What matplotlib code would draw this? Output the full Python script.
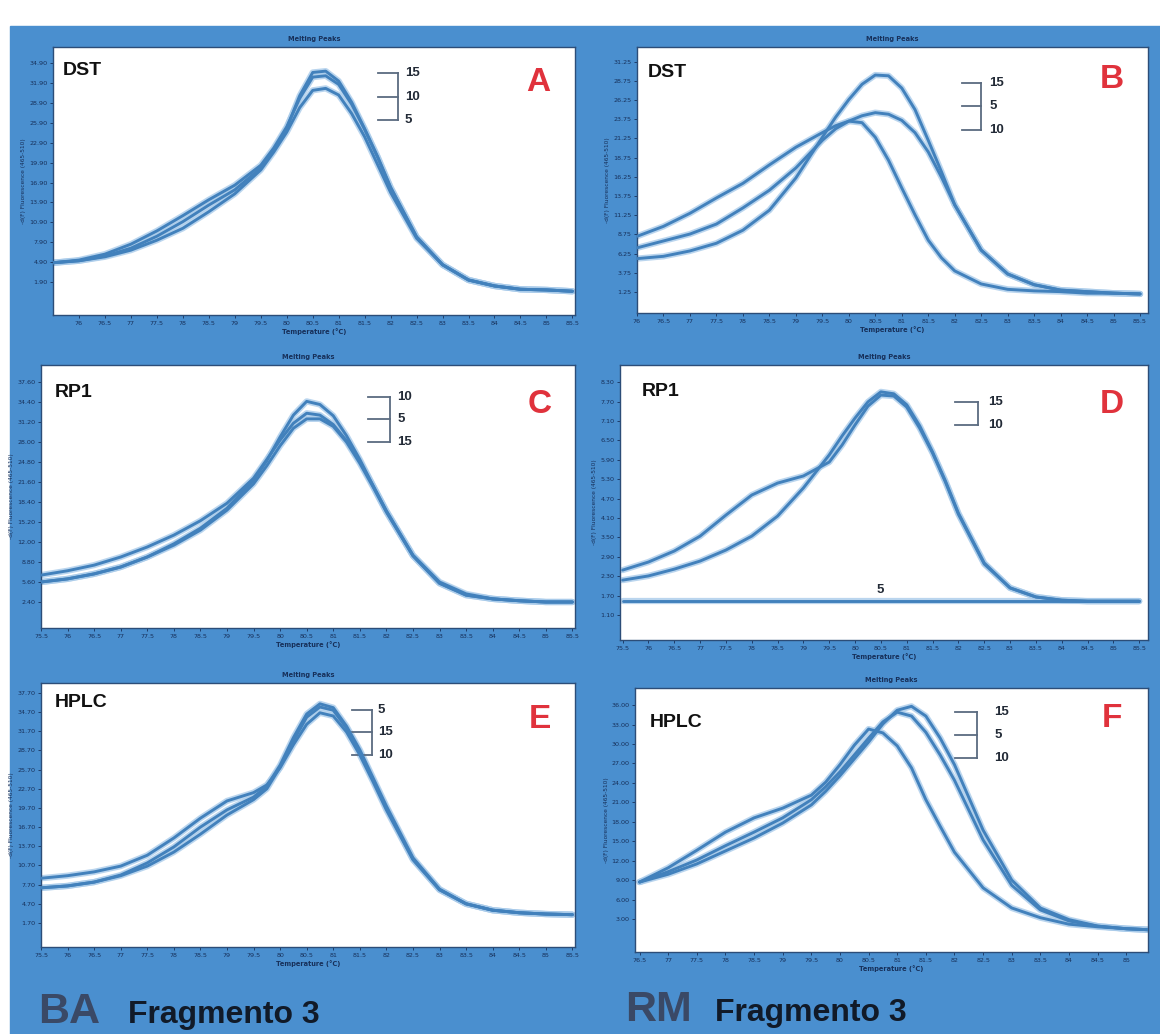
import numpy as np
import matplotlib
matplotlib.use('Agg')
import matplotlib.pyplot as plt
from matplotlib.patches import Rectangle

# temperaturas (eje x); paso mas fino cerca del pico
temp_ba = [75.5, 76.0, 76.5, 77.0, 77.5, 78.0, 78.5, 79.0, 79.5, 79.75, 80.0,
           80.25, 80.5, 80.75, 81.0, 81.25, 81.5, 81.75, 82.0, 82.5, 83.0,
           83.5, 84.0, 84.5, 85.0, 85.5]
temp_dst_rm = [76.0, 76.5, 77.0, 77.5, 78.0, 78.5, 79.0, 79.5, 79.75, 80.0,
               80.25, 80.5, 80.75, 81.0, 81.25, 81.5, 81.75, 82.0, 82.5, 83.0,
               83.5, 84.0, 84.5, 85.0, 85.5]
temp_rp1_rm = [75.5, 76.0, 76.5, 77.0, 77.5, 78.0, 78.5, 79.0, 79.5, 79.75, 80.0,
               80.25, 80.5, 80.75, 81.0, 81.25, 81.5, 81.75, 82.0, 82.5, 83.0,
               83.5, 84.0, 84.5, 85.0, 85.5]
temp_hplc_rm = [76.5, 77.0, 77.5, 78.0, 78.5, 79.0, 79.5, 79.75, 80.0, 80.25,
                80.5, 80.75, 81.0, 81.25, 81.5, 81.75, 82.0, 82.5, 83.0, 83.5,
                84.0, 84.5, 85.0, 85.5]

# -d(F)/dT de cada muestra (BA)
dst_ba_15 = [4.8, 5.1, 5.8, 7.0, 8.8, 11.0, 13.5, 15.8, 19.1, 21.8, 25.1, 30.0,
             33.5, 33.7, 32.2, 29.0, 25.0, 20.8, 16.2, 8.7, 4.5, 2.2, 1.3, 0.8,
             0.7, 0.5]
dst_ba_10 = [4.8, 5.2, 6.1, 7.6, 9.6, 11.9, 14.3, 16.5, 19.5, 22.1, 25.3, 29.6,
             32.8, 33.0, 31.7, 28.7, 24.9, 20.7, 16.1, 8.7, 4.5, 2.2, 1.3, 0.8,
             0.7, 0.5]
dst_ba_5 = [4.8, 5.1, 5.7, 6.7, 8.2, 10.0, 12.5, 15.2, 18.8, 21.5, 24.5, 28.2,
            30.8, 31.1, 30.1, 27.3, 23.8, 19.6, 15.4, 8.5, 4.5, 2.2, 1.3, 0.8,
            0.7, 0.5]

rp1_ba_10 = [5.6, 6.1, 6.9, 8.0, 9.6, 11.7, 14.2, 17.4, 21.9, 25.0, 28.8, 32.3,
             34.5, 34.0, 32.2, 29.0, 25.2, 21.0, 16.9, 9.8, 5.4, 3.5, 2.9, 2.6,
             2.4, 2.4]
rp1_ba_5 = [6.7, 7.4, 8.3, 9.6, 11.2, 13.1, 15.4, 18.2, 22.2, 25.2, 28.3, 31.0,
            32.6, 32.3, 30.8, 28.2, 24.9, 21.0, 17.0, 9.9, 5.6, 3.7, 2.9, 2.6,
            2.4, 2.4]
rp1_ba_15 = [5.6, 6.1, 6.9, 8.0, 9.6, 11.5, 13.9, 17.1, 21.3, 24.2, 27.4, 30.2,
             31.7, 31.7, 30.5, 28.0, 24.6, 20.8, 16.8, 9.8, 5.4, 3.5, 2.9, 2.6,
             2.4, 2.4]

hplc_ba_10 = [8.7, 9.1, 9.7, 10.6, 12.3, 15.0, 18.1, 20.8, 22.1, 23.3, 26.0,
              29.6, 32.8, 34.6, 34.1, 31.6, 28.0, 23.8, 19.4, 11.6, 6.9, 4.7,
              3.7, 3.3, 3.1, 3.0]
hplc_ba_5 = [7.2, 7.5, 8.1, 9.2, 11.1, 13.6, 16.7, 19.4, 21.4, 23.1, 26.4,
             30.7, 34.4, 36.0, 35.4, 32.5, 28.8, 24.4, 20.0, 11.9, 7.0, 4.7,
             3.7, 3.3, 3.1, 3.0]
hplc_ba_15 = [7.2, 7.5, 8.1, 9.1, 10.6, 12.8, 15.6, 18.6, 21.0, 22.7, 26.1,
              30.2, 33.9, 35.5, 35.0, 32.2, 28.5, 24.1, 19.7, 11.7, 6.9, 4.7,
              3.7, 3.3, 3.1, 3.0]

# -d(F)/dT de cada muestra (RM)
dst_rm_15 = [5.6, 5.9, 6.6, 7.6, 9.3, 11.9, 16.1, 21.4, 24.0, 26.3, 28.3, 29.5,
             29.4, 27.8, 25.0, 21.0, 16.9, 12.6, 6.7, 3.6, 2.2, 1.5, 1.3, 1.1,
             1.0]
dst_rm_5 = [7.0, 7.9, 8.8, 10.1, 12.2, 14.5, 17.4, 21.0, 22.5, 23.5, 24.2, 24.6,
            24.4, 23.6, 22.0, 19.5, 16.2, 12.6, 6.7, 3.6, 2.2, 1.5, 1.3, 1.1,
            1.0]
dst_rm_10 = [8.5, 9.8, 11.5, 13.5, 15.4, 17.8, 20.1, 22.0, 22.9, 23.5, 23.3,
             21.4, 18.4, 14.8, 11.3, 8.0, 5.7, 4.0, 2.3, 1.6, 1.4, 1.3, 1.1,
             1.1, 1.0]

rp1_rm_15 = [2.49, 2.74, 3.08, 3.54, 4.19, 4.81, 5.18, 5.40, 5.83, 6.36, 6.98,
             7.56, 7.90, 7.87, 7.53, 6.88, 6.11, 5.21, 4.22, 2.68, 1.94, 1.66,
             1.56, 1.53, 1.53, 1.53]
rp1_rm_10 = [2.18, 2.31, 2.52, 2.77, 3.11, 3.54, 4.16, 5.03, 6.05, 6.64, 7.19,
             7.69, 8.00, 7.94, 7.60, 6.95, 6.14, 5.24, 4.25, 2.71, 1.94, 1.66,
             1.56, 1.53, 1.53, 1.53]
rp1_rm_5 = [1.53, 1.53, 1.53, 1.53, 1.53, 1.53, 1.53, 1.53, 1.53, 1.53, 1.53,
            1.53, 1.53, 1.53, 1.53, 1.53, 1.53, 1.53, 1.53, 1.53, 1.53, 1.53,
            1.53, 1.53, 1.53, 1.53]

hplc_rm_15 = [8.7, 9.9, 11.5, 13.5, 15.5, 17.8, 20.6, 22.7, 25.1, 27.7, 30.3,
              33.1, 35.2, 35.8, 34.3, 30.9, 26.8, 16.7, 9.0, 4.7, 2.9, 1.9, 1.5,
              1.3]
hplc_rm_5 = [8.7, 10.3, 12.1, 14.3, 16.4, 18.6, 21.4, 23.4, 25.7, 28.3, 30.9,
             33.4, 34.9, 34.3, 31.8, 28.3, 24.4, 15.2, 8.2, 4.4, 2.7, 1.9, 1.5,
             1.3]
hplc_rm_10 = [8.7, 10.9, 13.6, 16.4, 18.6, 20.1, 22.1, 24.1, 26.8, 29.8, 32.3,
              31.7, 29.7, 26.3, 21.4, 17.3, 13.3, 7.8, 4.7, 3.2, 2.2, 1.8, 1.5,
              1.3]

AZUL_FONDO = '#4a8fcf'
LINEA = '#4281bc'
HALO = '#a9cbea'
TEXTO_EJE = '#17305a'

W, H = 1160, 1034


def caja(x0, y0, x1, y1):
    # convierte pixeles de la hoja a coordenadas de figura
    return [x0 / W, 1 - y1 / H, (x1 - x0) / W, (y1 - y0) / H]


def corchete(ax, x0, x1, ys, textos, xt):
    ax.plot([x1, x1], [ys[0], ys[-1]], color='#5b6b80', lw=1.3,
            transform=ax.transAxes, clip_on=False)
    for y, t in zip(ys, textos):
        ax.plot([x0, x1], [y, y], color='#5b6b80', lw=1.3,
                transform=ax.transAxes, clip_on=False)
        ax.text(xt, y, t, transform=ax.transAxes, fontsize=9.5,
                fontweight='bold', color='#222a36', va='center', ha='left',
                family='Liberation Sans')


def grafico(fig, pos, temps, curvas, xlim, xticks, ylim, yticks,
            nombre, nombre_xy, letra, letra_xy):
    ax = fig.add_axes(pos)
    ax.set_zorder(2)
    ax.set_facecolor('white')
    for y in curvas:
        ax.plot(temps, y, color=HALO, lw=4.5, alpha=0.8,
                solid_joinstyle='round', solid_capstyle='round', zorder=2)
    for y in curvas:
        ax.plot(temps, y, color=LINEA, lw=2.1,
                solid_joinstyle='round', solid_capstyle='round', zorder=3)
    ax.set_xlim(*xlim)
    ax.set_ylim(*ylim)
    ax.set_xticks(xticks)
    ax.set_xticklabels(['%g' % t for t in xticks])
    ax.set_yticks(yticks)
    ax.set_yticklabels(['%.2f' % v for v in yticks])
    ax.tick_params(labelsize=4.6, colors=TEXTO_EJE, length=2, width=0.6, pad=2)
    for s in ax.spines.values():
        s.set_color('#2c4d78')
        s.set_linewidth(1.0)
    ax.set_title('Melting Peaks', fontsize=4.8, fontweight='bold',
                 color=TEXTO_EJE, pad=4)
    ax.set_xlabel('Temperature (°C)', fontsize=4.8, fontweight='bold',
                  color=TEXTO_EJE, labelpad=1.5)
    ax.set_ylabel('-d(F) Fluorescence (465-510)', fontsize=4.2,
                  color=TEXTO_EJE, labelpad=2)
    ax.text(nombre_xy[0], nombre_xy[1], nombre, transform=ax.transAxes,
            fontsize=14, fontweight='bold', color='#111111', va='center',
            family='Liberation Sans')
    ax.text(letra_xy[0], letra_xy[1], letra, transform=ax.transAxes,
            fontsize=24, fontweight='bold', color='#e0323c', va='center',
            ha='center', family='Liberation Sans')
    return ax


fig = plt.figure(figsize=(W / 100, H / 100), dpi=100, facecolor='white')
# fondo azul detras de los seis graficos
fig.patches.append(Rectangle((10 / W, 0), 1, 1 - 26 / H, color=AZUL_FONDO,
                             transform=fig.transFigure, zorder=-5))

# A - DST BA
ax = grafico(fig, caja(53, 47, 575, 315), temp_ba,
             [dst_ba_15, dst_ba_10, dst_ba_5],
             (75.5, 85.55), np.arange(76, 85.6, 0.5),
             (-3.08, 37.34), np.arange(1.9, 35, 3),
             'DST', (0.019, 0.914), 'A', (0.929, 0.869))
corchete(ax, 0.623, 0.661, [0.903, 0.813, 0.728], ['15', '10', '5'], 0.674)

# B - DST RM
ax = grafico(fig, caja(637, 47, 1148, 313), temp_dst_rm,
             [dst_rm_15, dst_rm_5, dst_rm_10],
             (76.0, 85.65), np.arange(76, 85.6, 0.5),
             (-1.48, 33.15), np.arange(1.25, 31.3, 2.5),
             'DST', (0.022, 0.906), 'B', (0.930, 0.876))
corchete(ax, 0.636, 0.673, [0.865, 0.778, 0.688], ['15', '5', '10'], 0.69)

# C - RP1 BA
ax = grafico(fig, caja(41, 365, 575, 628), temp_ba,
             [rp1_ba_10, rp1_ba_5, rp1_ba_15],
             (75.5, 85.55), np.arange(75.5, 85.6, 0.5),
             (-1.76, 40.32), np.arange(2.4, 37.7, 3.2),
             'RP1', (0.026, 0.897), 'C', (0.934, 0.848))
corchete(ax, 0.612, 0.654, [0.878, 0.795, 0.707], ['10', '5', '15'], 0.667)

# D - RP1 RM (la muestra 5 queda plana)
ax = grafico(fig, caja(620, 365, 1148, 640), temp_rp1_rm,
             [rp1_rm_15, rp1_rm_10, rp1_rm_5],
             (75.45, 85.67), np.arange(75.5, 85.6, 0.5),
             (0.33, 8.83), np.arange(1.1, 8.4, 0.6),
             'RP1', (0.042, 0.902), 'D', (0.932, 0.855))
corchete(ax, 0.634, 0.678, [0.865, 0.782], ['15', '10'], 0.697)
ax.text(0.492, 0.182, '5', transform=ax.transAxes, fontsize=9.5,
        fontweight='bold', color='#222a36', ha='center', va='center',
        family='Liberation Sans')

# E - HPLC BA
ax = grafico(fig, caja(41, 683, 575, 947), temp_ba,
             [hplc_ba_10, hplc_ba_5, hplc_ba_15],
             (75.5, 85.55), np.arange(75.5, 85.6, 0.5),
             (-2.06, 39.26), np.arange(1.7, 37.8, 3),
             'HPLC', (0.026, 0.928), 'E', (0.934, 0.860))
corchete(ax, 0.582, 0.620, [0.898, 0.814, 0.727], ['5', '15', '10'], 0.631)

# F - HPLC RM
ax = grafico(fig, caja(635, 688, 1148, 952), temp_hplc_rm,
             [hplc_rm_15, hplc_rm_5, hplc_rm_10],
             (76.42, 85.38), np.arange(76.5, 85.1, 0.5),
             (-2.09, 38.63), np.arange(3, 36.1, 3),
             'HPLC', (0.029, 0.871), 'F', (0.930, 0.886))
corchete(ax, 0.624, 0.667, [0.909, 0.822, 0.735], ['15', '5', '10'], 0.70)

# rotulos de abajo
fig.text(38 / W, 1 - 1012 / H, 'BA', fontsize=31, fontweight='bold',
         color='#3a4966', va='center', family='Liberation Sans')
fig.text(128 / W, 1 - 1015 / H, 'Fragmento 3', fontsize=23, fontweight='bold',
         color='#111a28', va='center', family='Liberation Sans')
fig.text(625 / W, 1 - 1010 / H, 'RM', fontsize=31, fontweight='bold',
         color='#3a4966', va='center', family='Liberation Sans')
fig.text(715 / W, 1 - 1013 / H, 'Fragmento 3', fontsize=23, fontweight='bold',
         color='#111a28', va='center', family='Liberation Sans')

fig.savefig('out.png', dpi=100, facecolor=fig.get_facecolor())
